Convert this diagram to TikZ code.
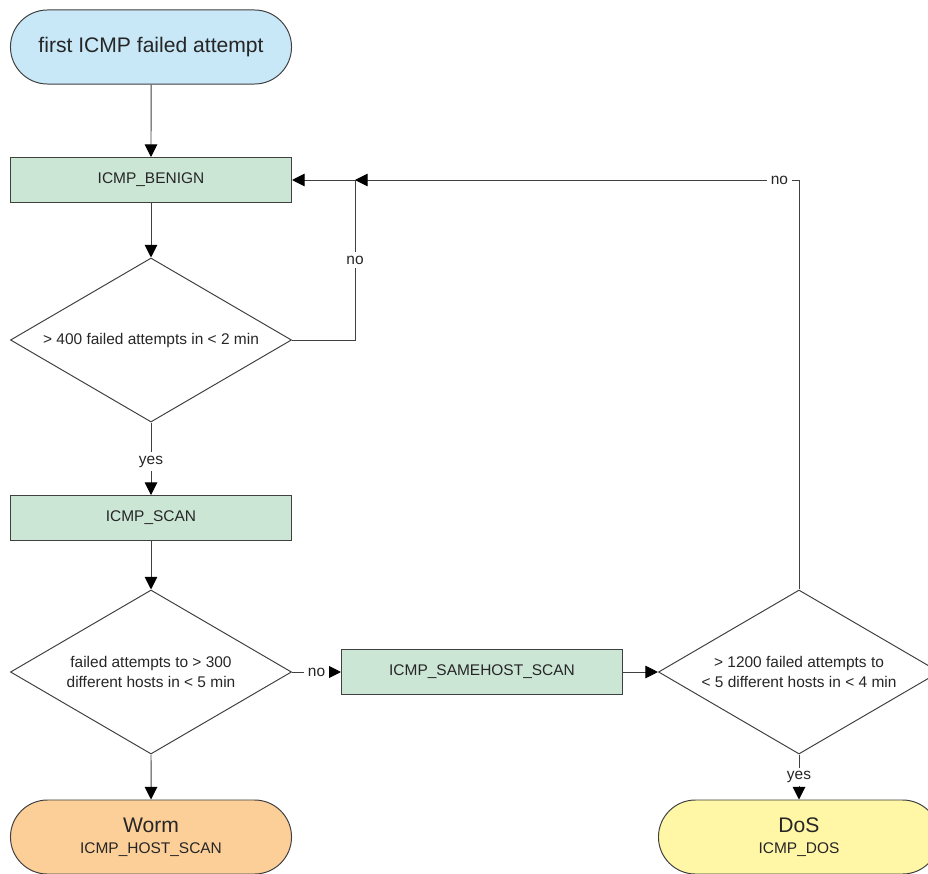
\documentclass[tikz,border=0pt]{standalone}
\usepackage{fontspec}
\setmainfont{Liberation Sans}
\usetikzlibrary{positioning, shapes.geometric, shapes.misc, arrows.meta}

\definecolor{startblue}{RGB}{200,232,248}
\definecolor{stategreen}{RGB}{204,230,214}
\definecolor{wormorange}{RGB}{252,207,152}
\definecolor{dosyellow}{RGB}{255,246,166}
\definecolor{linegray}{RGB}{64,64,64}

\newcommand{\bigtxt}{\fontsize{15}{18}\selectfont}
\newcommand{\smalltxt}{\fontsize{11}{13}\selectfont}

\tikzset{
	terminal/.style={rounded rectangle, draw=linegray, line width=0.7pt, minimum width=7.025cm, minimum height=1.85cm, align=center, inner sep=0pt},
	state/.style={rectangle, draw=linegray, line width=0.7pt, fill=stategreen, minimum width=7.025cm, minimum height=1.125cm, font=\smalltxt},
	decision/.style={diamond, draw=linegray, line width=0.7pt, aspect=1.71, minimum width=7.025cm, minimum height=4.1cm, inner sep=0pt, align=center, font=\fontsize{11}{14}\selectfont},
	line/.style={draw=linegray, line width=0.7pt},
	arr/.style={line, -{Triangle[length=9pt, width=9pt, black]}},
	lbl/.style={fill=white, inner sep=2.5pt, font=\smalltxt}
}

\begin{document}
\begin{tikzpicture}[x=0.025cm, y=-0.025cm, text=black!85]
	\useasboundingbox (0,0) rectangle (928,874);
	% states and tests
	\node[terminal, fill=startblue, font=\bigtxt] (first) at (151,47) {first ICMP failed attempt};
	\node[state] (benign) at (151,180) {ICMP\_BENIGN};
	\node[decision] (many) at (151,340) {> 400 failed attempts in < 2 min};
	\node[state] (scan) at (151,518) {ICMP\_SCAN};
	\node[decision] (hosts) at (151,672) {failed attempts to > 300\\different hosts in < 5 min};
	\node[terminal, fill=wormorange] (worm) at (151,837) {{\bigtxt Worm}\\[3pt]{\smalltxt ICMP\_HOST\_SCAN}};
	\node[state] (samehost) at (482,672) {ICMP\_SAMEHOST\_SCAN};
	\node[decision] (dosq) at (799,672) {> 1200 failed attempts to\\< 5 different hosts in < 4 min};
	\node[terminal, fill=dosyellow] (dos) at (799,837) {{\bigtxt DoS}\\[3pt]{\smalltxt ICMP\_DOS}};
	\coordinate (join) at (355,180);
	% transitions
	\draw[arr] (first) -- (benign);
	\draw[arr] (benign) -- (many);
	\draw[line] (many.east) -| node[lbl, pos=0.75] {no} (join);
	\draw[arr] (join) -- (benign.east);
	\draw[arr] (dosq.north) |- node[lbl, pos=0.522] {no} (join);
	\draw[arr] (many.south) -- node[lbl, pos=0.54] {yes} (scan.north);
	\draw[arr] (scan) -- (hosts);
	\draw[arr] (hosts) -- (worm);
	\draw[arr] (hosts.east) -- node[lbl] {no} (samehost.west);
	\draw[arr] (samehost) -- (dosq);
	\draw[arr] (dosq.south) -- node[lbl] {yes} (dos.north);
\end{tikzpicture}
\end{document}
